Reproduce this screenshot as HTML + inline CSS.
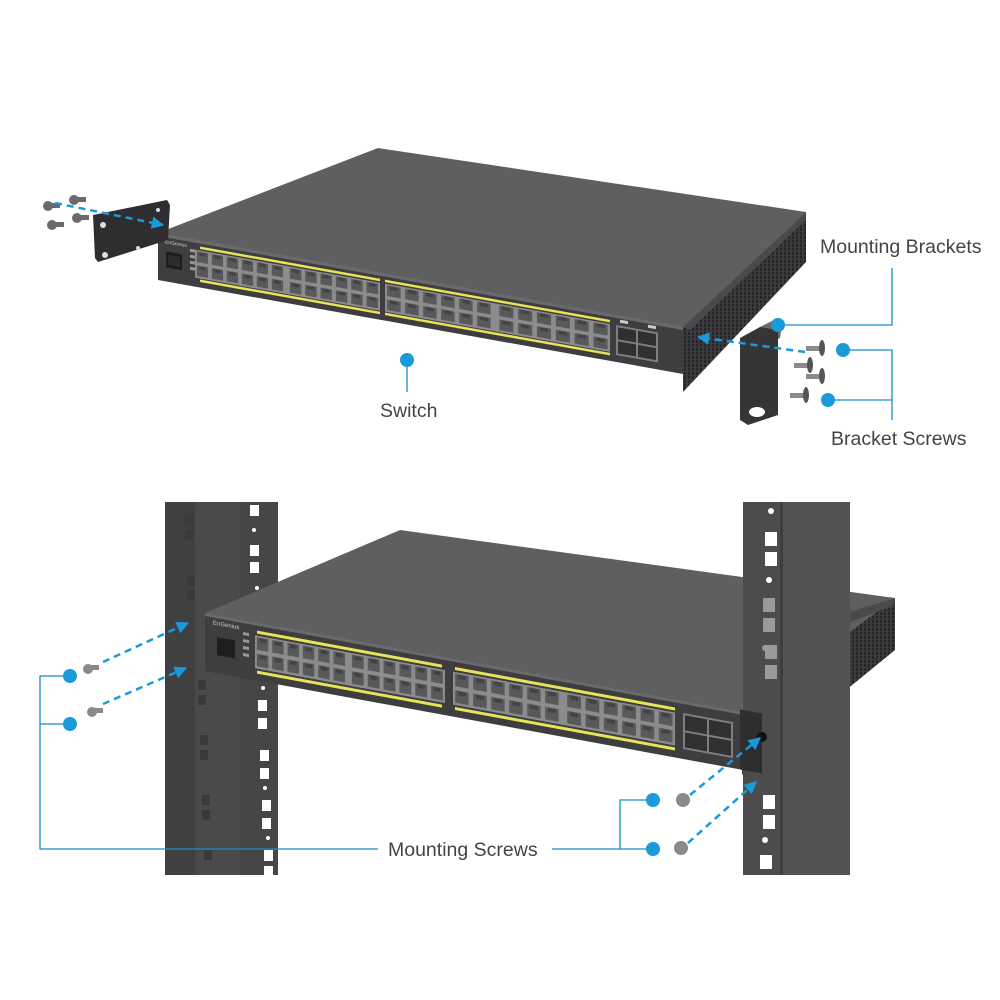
<!DOCTYPE html>
<html><head><meta charset="utf-8"><style>
html,body{margin:0;padding:0;background:#fff;width:1000px;height:1000px;overflow:hidden}
svg{display:block}
text{font-family:"Liberation Sans",sans-serif;fill:#444;font-size:19.5px}
</style></head><body>
<svg width="1000" height="1000" viewBox="0 0 1000 1000" xmlns="http://www.w3.org/2000/svg">
<defs>
<pattern id="ports" patternUnits="objectBoundingBox" width="0.16667" height="0.5" patternContentUnits="objectBoundingBox">
  <rect x="0.02" y="0.05" width="0.125" height="0.38" fill="#59595b"/>
  <rect x="0.045" y="0.07" width="0.075" height="0.12" fill="#434345"/>
</pattern>
<pattern id="vent" patternUnits="userSpaceOnUse" width="4" height="4">
  <rect width="4" height="4" fill="#3c3c3e"/>
  <rect width="2" height="3" fill="#262628"/>
</pattern>
<marker id="ah" viewBox="0 0 10 10" refX="9" refY="5" markerWidth="5" markerHeight="5" orient="auto">
  <path d="M0,0 L10,5 L0,10 z" fill="#1a9ad8"/>
</marker>
</defs>

<!-- ================= TOP SWITCH ================= -->
<polygon points="158,233 378,148 806,212 683,327" fill="#5f5f61"/>
<polygon points="683,327 806,212 806,262 683,392" fill="url(#vent)"/>
<polygon points="683,327 806,212 806,220 690,330" fill="#4a4a4c"/>
<g transform="matrix(1,0.179,0,1,158,233)">
  <rect x="0" y="0" width="525" height="47" fill="#3e3e40"/>
  <rect x="0" y="0" width="525" height="3" fill="#6a6a6c"/>
  <rect x="8" y="17" width="16" height="16" fill="#1e1e20"/>
  <rect x="10" y="20" width="12" height="10" fill="#2c2c2e"/>
  <rect x="32" y="10" width="5" height="3" fill="#999"/>
  <rect x="32" y="16" width="5" height="3" fill="#999"/>
  <rect x="32" y="22" width="5" height="3" fill="#999"/>
  <rect x="32" y="28" width="5" height="3" fill="#999"/>
  <text x="7" y="9" style="font-size:5px;fill:#ccc">EnGenius</text>
  <rect x="42" y="6" width="180" height="2.5" fill="#e9e25a"/>
  <rect x="227" y="6" width="225" height="2.5" fill="#e9e25a"/>
  <rect x="42" y="39" width="180" height="2.5" fill="#e9e25a"/>
  <rect x="227" y="39" width="225" height="2.5" fill="#e9e25a"/>
  <rect x="37" y="10" width="185" height="28" fill="#8c8c8e"/>
  <rect x="227" y="10" width="225" height="28" fill="#8c8c8e"/>
  <rect x="37" y="10" width="90" height="28" fill="url(#ports)"/>
  <rect x="130" y="10" width="92" height="28" fill="url(#ports)"/>
  <rect x="227" y="10" width="108" height="28" fill="url(#ports)"/>
  <rect x="339" y="10" width="113" height="28" fill="url(#ports)"/>
  <rect x="458" y="10" width="42" height="30" fill="#7e7e80"/>
  <rect x="460" y="12" width="18" height="12" fill="#303032"/>
  <rect x="480" y="12" width="18" height="12" fill="#303032"/>
  <rect x="460" y="26" width="18" height="12" fill="#303032"/>
  <rect x="480" y="26" width="18" height="12" fill="#303032"/>
  <rect x="462" y="4" width="8" height="3" fill="#ccc"/>
  <rect x="490" y="4" width="8" height="3" fill="#ccc"/>
</g>

<!-- left bracket top -->
<polygon points="93,215 167,200 170,205 168,240 98,262 95,258" fill="#2e2e30"/>
<circle cx="103" cy="225" r="3" fill="#ddd"/>
<circle cx="105" cy="255" r="3" fill="#ddd"/>
<circle cx="158" cy="210" r="2" fill="#ddd"/>
<circle cx="138" cy="248" r="2" fill="#ddd"/>
<g fill="#6a6a6c">
  <circle cx="48" cy="206" r="5"/><rect x="50" y="203" width="10" height="5"/>
  <circle cx="74" cy="200" r="5"/><rect x="76" y="197" width="10" height="5"/>
  <circle cx="52" cy="225" r="5"/><rect x="54" y="222" width="10" height="5"/>
  <circle cx="77" cy="218" r="5"/><rect x="79" y="215" width="10" height="5"/>
</g>
<line x1="55" y1="203" x2="163" y2="225" stroke="#1a9ad8" stroke-width="2.5" stroke-dasharray="7,5" marker-end="url(#ah)"/>

<!-- right bracket top -->
<polygon points="760,327 778,318 782,325 780,338 762,347" fill="#6a6a6c"/>
<polygon points="740,338 760,327 778,330 778,415 748,425 740,420" fill="#353537"/>
<ellipse cx="757" cy="412" rx="8" ry="5" fill="#fff"/>
<g fill="#8a8a8c">
  <rect x="806" y="346" width="14" height="5"/><ellipse cx="822" cy="348" rx="3" ry="8" fill="#555"/>
  <rect x="794" y="363" width="14" height="5"/><ellipse cx="810" cy="365" rx="3" ry="8" fill="#555"/>
  <rect x="806" y="374" width="14" height="5"/><ellipse cx="822" cy="376" rx="3" ry="8" fill="#555"/>
  <rect x="790" y="393" width="14" height="5"/><ellipse cx="806" cy="395" rx="3" ry="8" fill="#555"/>
</g>
<line x1="805" y1="352" x2="698" y2="337" stroke="#1a9ad8" stroke-width="2.5" stroke-dasharray="7,5" marker-end="url(#ah)"/>

<g stroke="#1a8cc8" stroke-width="1.3" fill="none">
  <polyline points="778,325 892,325 892,268"/>
  <polyline points="843,350 892,350 892,420"/>
  <line x1="828" y1="400" x2="892" y2="400"/>
  <line x1="407" y1="360" x2="407" y2="392"/>
</g>
<g fill="#1a9ad8">
  <circle cx="778" cy="325" r="7"/>
  <circle cx="843" cy="350" r="7"/>
  <circle cx="828" cy="400" r="7"/>
  <circle cx="407" cy="360" r="7"/>
</g>
<text x="820" y="253">Mounting Brackets</text>
<text x="831" y="445">Bracket Screws</text>
<text x="380" y="417">Switch</text>

<!-- ================= BOTTOM ================= -->
<rect x="165" y="502" width="113" height="373" fill="#4a4a4c"/>
<rect x="165" y="502" width="30" height="373" fill="#404042"/>
<rect x="240" y="502" width="38" height="373" fill="#464648"/>
<g fill="#fff">
  <rect x="250" y="505" width="9" height="11"/>
  <rect x="250" y="545" width="9" height="11"/><rect x="250" y="562" width="9" height="11"/>
  <rect x="258" y="700" width="9" height="11"/><rect x="258" y="718" width="9" height="11"/>
  <rect x="260" y="750" width="9" height="11"/><rect x="260" y="768" width="9" height="11"/>
  <rect x="262" y="800" width="9" height="11"/><rect x="262" y="818" width="9" height="11"/>
  <rect x="264" y="850" width="9" height="11"/><rect x="264" y="866" width="9" height="9"/>
  <circle cx="254" cy="530" r="2"/><circle cx="257" cy="588" r="2"/>
  <circle cx="263" cy="688" r="2"/><circle cx="265" cy="788" r="2"/><circle cx="268" cy="838" r="2"/>
</g>
<g fill="#3a3a3c">
  <rect x="185" y="515" width="8" height="10"/><rect x="185" y="530" width="8" height="10"/>
  <rect x="187" y="575" width="8" height="10"/><rect x="187" y="590" width="8" height="10"/>
  <rect x="198" y="680" width="8" height="10"/><rect x="198" y="695" width="8" height="10"/>
  <rect x="200" y="735" width="8" height="10"/><rect x="200" y="750" width="8" height="10"/>
  <rect x="202" y="795" width="8" height="10"/><rect x="202" y="810" width="8" height="10"/>
  <rect x="204" y="850" width="8" height="10"/>
</g>

<polygon points="205,613 400,530 895,598 742,712" fill="#5f5f61"/>
<polygon points="742,712 895,598 895,650 742,775" fill="url(#vent)"/>
<polygon points="850,612 895,598 893,606 850,622" fill="#4a4a4c"/>

<rect x="743" y="502" width="107" height="373" fill="#4c4c4e"/>
<rect x="780" y="502" width="70" height="373" fill="#535355"/>
<rect x="780" y="502" width="3" height="373" fill="#3e3e40"/>
<g fill="#fff">
  <circle cx="771" cy="511" r="3"/>
  <rect x="765" y="532" width="12" height="14"/><rect x="765" y="552" width="12" height="14"/>
  <circle cx="769" cy="580" r="3"/>
  <rect x="763" y="795" width="12" height="14"/><rect x="763" y="815" width="12" height="14"/>
  <circle cx="765" cy="840" r="3"/>
  <rect x="760" y="855" width="12" height="14"/>
</g>
<g fill="#9a9a9c">
  <rect x="763" y="598" width="12" height="14"/><rect x="763" y="618" width="12" height="14"/>
  <circle cx="765" cy="648" r="3"/>
  <rect x="765" y="645" width="12" height="14"/><rect x="765" y="665" width="12" height="14"/>
</g>

<g transform="matrix(1,0.184,0,1,205,613)">
  <rect x="0" y="0" width="537" height="58" fill="#3e3e40"/>
  <rect x="0" y="0" width="537" height="3" fill="#6a6a6c"/>
  <rect x="535" y="-2" width="22" height="60" fill="#2e2e30"/>
  <rect x="12" y="22" width="18" height="18" fill="#1e1e20"/>
  <rect x="38" y="12" width="6" height="3" fill="#999"/>
  <rect x="38" y="19" width="6" height="3" fill="#999"/>
  <rect x="38" y="26" width="6" height="3" fill="#999"/>
  <rect x="38" y="33" width="6" height="3" fill="#999"/>
  <text x="8" y="10" style="font-size:6px;fill:#ccc">EnGenius</text>
  <rect x="52" y="8" width="185" height="3" fill="#e9e25a"/>
  <rect x="250" y="8" width="220" height="3" fill="#e9e25a"/>
  <rect x="52" y="48" width="185" height="3" fill="#e9e25a"/>
  <rect x="250" y="48" width="220" height="3" fill="#e9e25a"/>
  <rect x="50" y="13" width="190" height="33" fill="#8c8c8e"/>
  <rect x="248" y="13" width="222" height="33" fill="#8c8c8e"/>
  <rect x="50" y="13" width="92" height="33" fill="url(#ports)"/>
  <rect x="145" y="13" width="95" height="33" fill="url(#ports)"/>
  <rect x="248" y="13" width="108" height="33" fill="url(#ports)"/>
  <rect x="360" y="13" width="110" height="33" fill="url(#ports)"/>
  <rect x="478" y="12" width="50" height="36" fill="#7e7e80"/>
  <rect x="480" y="14" width="22" height="15" fill="#303032"/>
  <rect x="504" y="14" width="22" height="15" fill="#303032"/>
  <rect x="480" y="31" width="22" height="15" fill="#303032"/>
  <rect x="504" y="31" width="22" height="15" fill="#303032"/>
</g>
<circle cx="762" cy="737" r="5" fill="#111"/>

<g fill="#8a8a8c">
  <circle cx="88" cy="669" r="5"/><rect x="90" y="665" width="9" height="5"/>
  <circle cx="92" cy="712" r="5"/><rect x="94" y="708" width="9" height="5"/>
  <circle cx="683" cy="800" r="7"/>
  <circle cx="681" cy="848" r="7"/>
</g>
<g stroke="#1a9ad8" stroke-width="2.5" stroke-dasharray="7,5" marker-end="url(#ah)">
  <line x1="103" y1="662" x2="188" y2="623"/>
  <line x1="103" y1="704" x2="186" y2="668"/>
  <line x1="690" y1="795" x2="760" y2="738"/>
  <line x1="688" y1="843" x2="756" y2="782"/>
</g>

<g stroke="#1a8cc8" stroke-width="1.3" fill="none">
  <polyline points="70,676 40,676 40,849 378,849"/>
  <line x1="40" y1="724" x2="70" y2="724"/>
  <polyline points="552,849 653,849"/>
  <polyline points="653,800 620,800 620,849"/>
</g>
<g fill="#1a9ad8">
  <circle cx="70" cy="676" r="7"/>
  <circle cx="70" cy="724" r="7"/>
  <circle cx="653" cy="800" r="7"/>
  <circle cx="653" cy="849" r="7"/>
</g>
<text x="388" y="856">Mounting Screws</text>
</svg>
</body></html>
